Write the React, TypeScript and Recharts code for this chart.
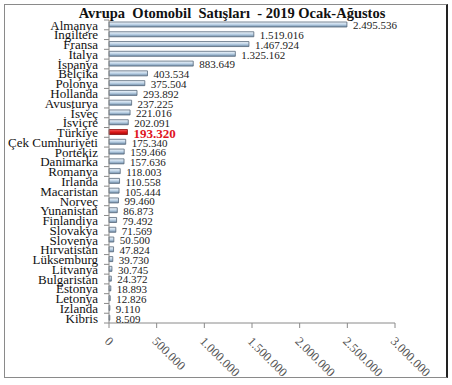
import React from 'react';
import { BarChart, Bar, Cell, XAxis, YAxis, LabelList } from 'recharts';

// Avrupa otomobil satışları, 2019 Ocak-Ağustos (adet)
const countries = [
  'Almanya', 'İngiltere', 'Fransa', 'İtalya', 'İspanya', 'Belçika', 'Polonya', 'Hollanda',
  'Avusturya', 'İsveç', 'İsviçre', 'Türkiye', 'Çek Cumhuriyeti', 'Portekiz', 'Danimarka',
  'Romanya', 'Irlanda', 'Macaristan', 'Norveç', 'Yunanistan', 'Finlandiya', 'Slovakya',
  'Slovenya', 'Hırvatistan', 'Lüksemburg', 'Litvanya', 'Bulgaristan', 'Estonya', 'Letonya',
  'Izlanda', 'Kibris',
];
const sales = [
  2495536, 1519016, 1467924, 1325162, 883649, 403534, 375504, 293892,
  237225, 221016, 202091, 193320, 175340, 159466, 157636,
  118003, 110558, 105444, 99460, 86873, 79492, 71569,
  50500, 47824, 39730, 30745, 24372, 18893, 12826,
  9110, 8509,
];
const xTicks = [0, 500000, 1000000, 1500000, 2000000, 2500000, 3000000];
const highlight = 'Türkiye';

const data = countries.map((country, i) => ({ country, sales: sales[i] }));

const W = 452;
const H = 385;
const M = { top: 20, right: 57, bottom: 0, left: 0 };
const Y_W = 109;
const X_H = 62;
const band = (H - M.top - M.bottom - X_H) / countries.length;
const serif = '"Liberation Serif", "DejaVu Serif", serif';

const fmt = (v: number) => String(v).replace(/\B(?=(\d{3})+(?!\d))/g, '.');

const YTick = ({ y, payload, index }: any) => (
  <g>
    <line x1={Y_W - 5} x2={Y_W} y1={y + band / 2} y2={y + band / 2} stroke="#8a8a8a" />
    {index === 0 && <line x1={Y_W - 5} x2={Y_W} y1={y - band / 2} y2={y - band / 2} stroke="#8a8a8a" />}
    <text x={Y_W - 11} y={y} dy="0.36em" textAnchor="end" fontSize={13} fontFamily={serif} fill="#111">
      {payload.value}
    </text>
  </g>
);

const XTick = ({ x, y, payload }: any) => (
  <g transform={`translate(${x - 2},${y + 9}) rotate(45)`}>
    <text x={0} y={0} dy="0.35em" textAnchor="start" fontSize={12.5} fontFamily={serif} fill="#555">
      {fmt(payload.value)}
    </text>
  </g>
);

const ValueLabel = ({ x, y, width, height, value, index }: any) => {
  const hot = countries[index] === highlight;
  return (
    <text
      x={x + width + 6}
      y={y + height / 2 + 1}
      dy="0.35em"
      fontSize={hot ? 13 : 11}
      fontWeight={hot ? 'bold' : 'normal'}
      fontFamily={serif}
      fill={hot ? '#e0141e' : '#222'}
    >
      {fmt(value)}
    </text>
  );
};

export default function App() {
  return (
    <div style={{ position: 'absolute', left: 0, top: 0, width: W, height: H, background: '#fff' }}>
      <div
        style={{
          position: 'absolute', left: 4, top: 4, width: 441, height: 372,
          borderTop: '1px solid #8a8a8a', borderLeft: '1px solid #8a8a8a',
          borderBottom: '1px solid #8a8a8a', borderRight: '2px solid #222',
        }}
      />
      <div
        style={{
          position: 'absolute', left: 0, top: 5, width: 464, textAlign: 'center',
          fontFamily: serif, fontWeight: 'bold', fontSize: 14.5, whiteSpace: 'pre', color: '#111',
        }}
      >
        {'Avrupa  Otomobil  Satışları  - 2019 Ocak-Ağustos'}
      </div>
      <div style={{ position: 'absolute', left: 0, top: 0 }}>
        <BarChart width={W} height={H} data={data} layout="vertical" margin={M} barSize={5}>
          <defs>
            <linearGradient id="barGrad" x1="0" y1="0" x2="0" y2="1">
              <stop offset="0%" stopColor="#f4f8fc" />
              <stop offset="50%" stopColor="#bcd2e6" />
              <stop offset="100%" stopColor="#6d8aa6" />
            </linearGradient>
            <linearGradient id="redGrad" x1="0" y1="0" x2="0" y2="1">
              <stop offset="0%" stopColor="#f06060" />
              <stop offset="50%" stopColor="#e01818" />
              <stop offset="100%" stopColor="#a00808" />
            </linearGradient>
          </defs>
          <XAxis
            type="number"
            domain={[0, 3000000]}
            ticks={xTicks}
            height={X_H}
            stroke="#8a8a8a"
            tickSize={5}
            tick={<XTick />}
            interval={0}
          />
          <YAxis
            type="category"
            dataKey="country"
            width={Y_W}
            stroke="#8a8a8a"
            tickLine={false}
            tick={<YTick />}
            interval={0}
          />
          <Bar dataKey="sales" isAnimationActive={false} stroke="#55677a" strokeWidth={0.8}>
            {data.map((d, i) => (
              <Cell
                key={`cell-${i}`}
                fill={d.country === highlight ? 'url(#redGrad)' : 'url(#barGrad)'}
                stroke={d.country === highlight ? '#8a0a0a' : '#55677a'}
              />
            ))}
            <LabelList dataKey="sales" content={<ValueLabel />} />
          </Bar>
        </BarChart>
      </div>
    </div>
  );
}
